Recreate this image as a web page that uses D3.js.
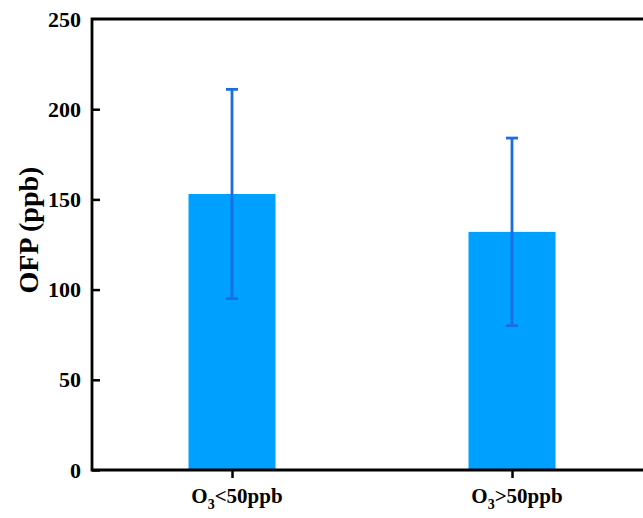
<!DOCTYPE html>
<html>
<head>
<meta charset="utf-8">
<script src="https://cdn.jsdelivr.net/npm/d3@7"></script>
<style>
  body { margin: 0; background: #fff; }
  text { font-family: "Liberation Serif", "Times New Roman", serif; font-weight: bold; }
</style>
</head>
<body>
<div id="chart"></div>
<script>
// data
const categories = ["lt50", "gt50"];
const labelMain = ["<50ppb", ">50ppb"];
const ofpMean = [153, 132];
const ofpErr = [58, 52];
const yTicks = [0, 50, 100, 150, 200, 250];

const W = 643, H = 518;
const MARGIN = { LEFT: 92, RIGHT: -9, TOP: 19, BOTTOM: 48 };

const svg = d3.select("#chart").append("svg")
    .attr("width", W)
    .attr("height", H);

const x = d3.scalePoint()
    .domain(categories)
    .range([MARGIN.LEFT, W - MARGIN.RIGHT])
    .padding(0.5);

const y = d3.scaleLinear()
    .domain([0, 250])
    .range([H - MARGIN.BOTTOM, MARGIN.TOP]);

const barW = 87;

// bars
svg.selectAll(".bar")
    .data(categories)
    .join("rect")
    .attr("class", "bar")
    .attr("x", d => x(d) - barW / 2)
    .attr("y", (d, i) => y(ofpMean[i]))
    .attr("width", barW)
    .attr("height", (d, i) => y(0) - y(ofpMean[i]))
    .attr("fill", "#00a0ff");

// error bars
const eb = svg.selectAll(".err")
    .data(categories)
    .join("g")
    .attr("class", "err")
    .attr("stroke", "#1a6ee2")
    .attr("stroke-width", 2.8);

eb.append("line")
    .attr("x1", d => x(d)).attr("x2", d => x(d))
    .attr("y1", (d, i) => y(ofpMean[i] + ofpErr[i]))
    .attr("y2", (d, i) => y(ofpMean[i] - ofpErr[i]));

eb.append("line")
    .attr("x1", d => x(d) - 6).attr("x2", d => x(d) + 6)
    .attr("y1", (d, i) => y(ofpMean[i] + ofpErr[i]))
    .attr("y2", (d, i) => y(ofpMean[i] + ofpErr[i]));

eb.append("line")
    .attr("x1", d => x(d) - 6).attr("x2", d => x(d) + 6)
    .attr("y1", (d, i) => y(ofpMean[i] - ofpErr[i]))
    .attr("y2", (d, i) => y(ofpMean[i] - ofpErr[i]));

// y axis (inward ticks)
const yAxis = svg.append("g")
    .attr("transform", `translate(${MARGIN.LEFT},0)`)
    .call(d3.axisLeft(y).tickValues(yTicks).tickSize(-8).tickPadding(11));
yAxis.select(".domain").remove();
yAxis.selectAll(".tick line").attr("stroke", "#000").attr("stroke-width", 2.5);
yAxis.selectAll(".tick text")
    .style("font-size", "22px")
    .attr("fill", "#000");
yAxis.select(".tick:last-of-type line").remove();

// x axis (outward ticks)
const xAxis = svg.append("g")
    .attr("transform", `translate(0,${y(0)})`)
    .call(d3.axisBottom(x).tickSize(8).tickFormat(""));
xAxis.select(".domain").remove();
xAxis.selectAll(".tick line").attr("stroke", "#000").attr("stroke-width", 2.5);

// frame lines
svg.append("path")
    .attr("d", `M${W + 5},${y(250)} H${MARGIN.LEFT} V${y(0)} H${W + 5}`)
    .attr("fill", "none")
    .attr("stroke", "#000")
    .attr("stroke-width", 2.8);

// x labels with subscript
const xl = svg.selectAll(".xlab")
    .data(categories)
    .join("text")
    .attr("class", "xlab")
    .attr("x", d => x(d) + 5)
    .attr("y", 503)
    .attr("text-anchor", "middle")
    .style("font-size", "21px");
xl.append("tspan").text("O");
xl.append("tspan").attr("dy", 6).style("font-size", "14px").text("3");
xl.append("tspan").attr("dy", -6).text((d, i) => labelMain[i]);

// y title
svg.append("text")
    .attr("transform", "rotate(-90)")
    .attr("x", -230)
    .attr("y", 38)
    .attr("text-anchor", "middle")
    .style("font-size", "28px")
    .text("OFP (ppb)");
</script>
</body>
</html>
